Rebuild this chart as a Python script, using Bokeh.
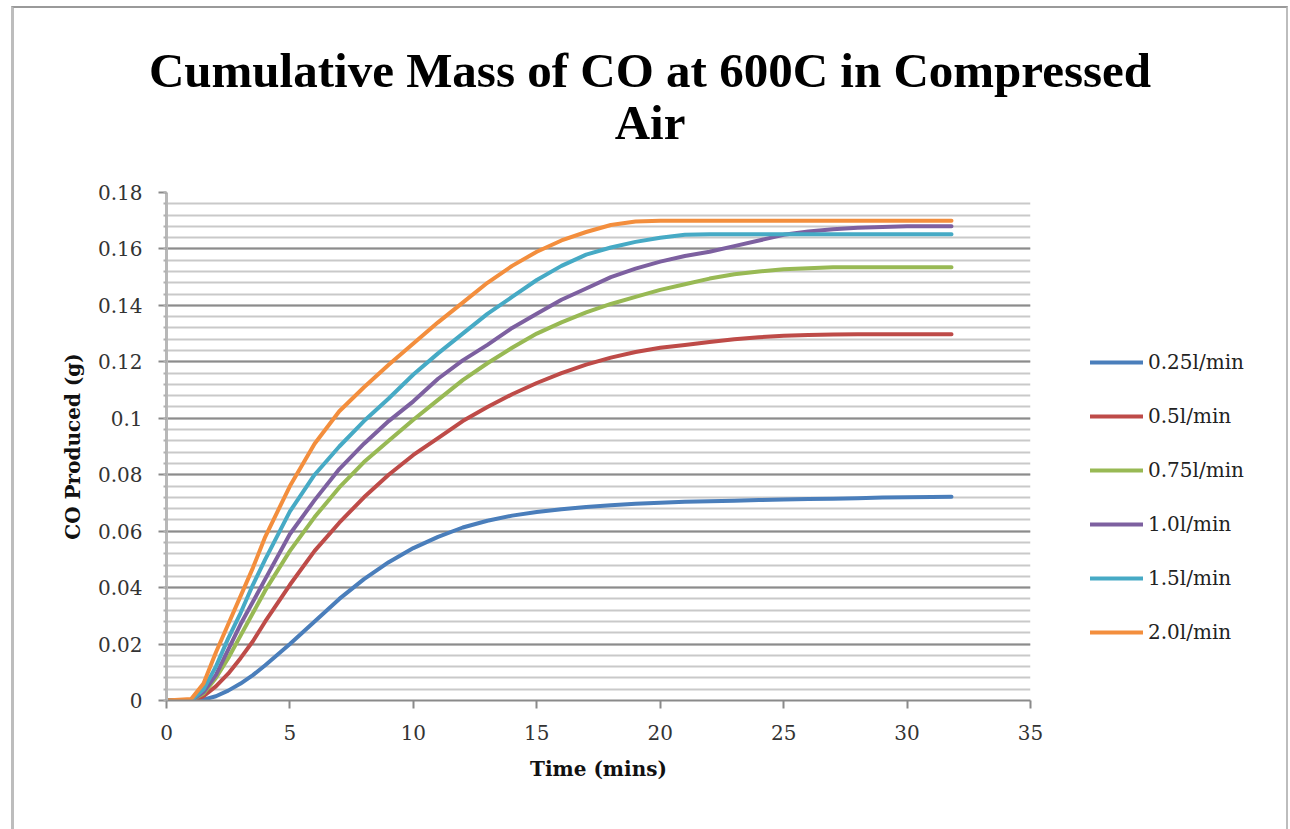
from bokeh.plotting import figure
from bokeh.models import FixedTicker, Legend, LegendItem, Div
from bokeh.layouts import column, row
from bokeh.embed import file_html
from bokeh.resources import INLINE

# ---------------- data ----------------
time_min = [0, 1, 1.5, 2, 2.5, 3, 3.5, 4, 5, 6, 7, 8, 9, 10, 11, 12, 13, 14, 15,
            16, 17, 18, 19, 20, 21, 22, 23, 24, 25, 26, 27, 28, 29, 30, 31, 31.8]

flow_025 = [0, 0, 0.0003, 0.0015, 0.0035, 0.006, 0.009, 0.0125, 0.020, 0.028, 0.036,
            0.043, 0.049, 0.054, 0.058, 0.0613, 0.0637, 0.0655, 0.0668, 0.0678, 0.0686,
            0.0692, 0.0697, 0.0701, 0.0704, 0.0706, 0.0708, 0.0710, 0.0712, 0.0714,
            0.0715, 0.0717, 0.0719, 0.0720, 0.0721, 0.0722]
flow_05 = [0, 0, 0.0015, 0.005, 0.0095, 0.015, 0.021, 0.028, 0.041, 0.053, 0.063,
           0.072, 0.080, 0.087, 0.093, 0.099, 0.104, 0.1085, 0.1125, 0.116, 0.119,
           0.1215, 0.1235, 0.125, 0.126, 0.127, 0.128, 0.1287, 0.1292, 0.1295,
           0.1297, 0.1298, 0.1298, 0.1298, 0.1298, 0.1298]
flow_075 = [0, 0, 0.0025, 0.008, 0.015, 0.023, 0.031, 0.039, 0.053, 0.065, 0.0755,
            0.0845, 0.092, 0.0995, 0.1065, 0.1135, 0.1195, 0.125, 0.130, 0.134, 0.1375,
            0.1405, 0.143, 0.1455, 0.1475, 0.1495, 0.151, 0.152, 0.1528, 0.1532,
            0.1535, 0.1535, 0.1535, 0.1535, 0.1535, 0.1535]
flow_10 = [0, 0, 0.003, 0.009, 0.018, 0.027, 0.035, 0.043, 0.059, 0.071, 0.082,
           0.091, 0.099, 0.106, 0.114, 0.1205, 0.126, 0.132, 0.137, 0.142, 0.146,
           0.150, 0.153, 0.1555, 0.1575, 0.159, 0.161, 0.163, 0.165, 0.1662,
           0.1670, 0.1675, 0.1678, 0.1680, 0.1680, 0.1680]
flow_15 = [0, 0, 0.004, 0.012, 0.022, 0.031, 0.041, 0.050, 0.067, 0.080, 0.090,
           0.099, 0.107, 0.1155, 0.123, 0.130, 0.137, 0.143, 0.149, 0.154, 0.158,
           0.1605, 0.1625, 0.164, 0.165, 0.1652, 0.1652, 0.1652, 0.1652, 0.1652,
           0.1652, 0.1652, 0.1652, 0.1652, 0.1652, 0.1652]
flow_20 = [0, 0.0005, 0.006, 0.017, 0.027, 0.037, 0.047, 0.058, 0.076, 0.091, 0.1025,
           0.111, 0.119, 0.1265, 0.134, 0.141, 0.148, 0.154, 0.159, 0.163, 0.166,
           0.1685, 0.1697, 0.170, 0.170, 0.170, 0.170, 0.170, 0.170, 0.170,
           0.170, 0.170, 0.170, 0.170, 0.170, 0.170]

series_names = ["0.25l/min", "0.5l/min", "0.75l/min", "1.0l/min", "1.5l/min", "2.0l/min"]
series_values = [flow_025, flow_05, flow_075, flow_10, flow_15, flow_20]
series_colors = ["#4A7EBB", "#BE4B48", "#98B954", "#7D60A0", "#46AAC5", "#F38E3D"]

x_ticks = [0, 5, 10, 15, 20, 25, 30, 35]
y_ticks = [0, 0.02, 0.04, 0.06, 0.08, 0.1, 0.12, 0.14, 0.16, 0.18]
y_tick_labels = ["0", "0.02", "0.04", "0.06", "0.08", "0.1", "0.12", "0.14", "0.16", "0.18"]
y_minor_ticks = [round(i * 0.004, 3) for i in range(46)]

title_lines = ["Cumulative Mass of CO at 600C in Compressed", "Air"]
x_label = "Time (mins)"
y_label = "CO Produced (g)"

SERIF = "DejaVu Serif"

# ---------------- title ----------------
title_div = Div(
    text="<div style=\"width:1264px; padding-top:37px; padding-left:8px; text-align:center; "
         "font-family:'Liberation Serif'; font-weight:bold; font-size:49px; "
         "line-height:52px; color:#000;\">" + title_lines[0] + "<br>" + title_lines[1] + "</div>",
    width=1272, height=142, margin=0)

# ---------------- main figure ----------------
p = figure(width=1036, height=679, output_backend="svg", toolbar_location=None,
           x_range=(0, 35), y_range=(0, 0.18),
           min_border_left=152, min_border_right=20, min_border_top=42,
           min_border_bottom=129, margin=0)
p.outline_line_color = None
p.background_fill_color = "white"
p.border_fill_color = "white"

# grid
p.xgrid.grid_line_color = None
p.ygrid.ticker = FixedTicker(ticks=y_ticks, minor_ticks=y_minor_ticks)
p.ygrid.grid_line_color = "#8c8c8c"
p.ygrid.grid_line_width = 2
p.ygrid.minor_grid_line_color = "#c9c9c9"
p.ygrid.minor_grid_line_width = 2

# axes
xa = p.xaxis[0]
xa.ticker = FixedTicker(ticks=x_ticks, minor_ticks=[])
xa.axis_line_color = "#8a8a8a"
xa.axis_line_width = 2
xa.major_tick_line_color = "#8a8a8a"
xa.major_tick_line_width = 2
xa.major_tick_out = 8
xa.major_tick_in = 0
xa.minor_tick_line_color = None
xa.major_label_text_font = SERIF
xa.major_label_text_font_size = "20px"
xa.major_label_text_color = "#333333"
xa.major_label_standoff = 16
xa.axis_label = x_label
xa.axis_label_text_font = SERIF
xa.axis_label_text_font_style = "bold"
xa.axis_label_text_font_size = "20px"
xa.axis_label_text_color = "#111111"
xa.axis_label_standoff = 14

ya = p.yaxis[0]
ya.ticker = FixedTicker(ticks=y_ticks, minor_ticks=y_minor_ticks)
ya.major_label_overrides = dict(zip(y_ticks, y_tick_labels))
ya.axis_line_color = "#b8b8b8"
ya.axis_line_width = 3
ya.major_tick_line_color = "#8a8a8a"
ya.major_tick_line_width = 2
ya.major_tick_out = 8
ya.major_tick_in = 0
ya.minor_tick_line_color = "#b0b0b0"
ya.minor_tick_line_width = 2
ya.minor_tick_out = 3
ya.minor_tick_in = 0
ya.major_label_text_font = SERIF
ya.major_label_text_font_size = "20px"
ya.major_label_text_color = "#333333"
ya.major_label_standoff = 16
ya.axis_label = y_label
ya.axis_label_text_font = SERIF
ya.axis_label_text_font_style = "bold"
ya.axis_label_text_font_size = "20px"
ya.axis_label_text_color = "#111111"
ya.axis_label_standoff = 10

# lines
for name, vals, col in zip(series_names, series_values, series_colors):
    p.line(time_min, vals, line_color=col, line_width=4, line_join="round",
           line_cap="round")

# ---------------- legend panel (own small figure to the right) ----------------
# same series drawn again but outside this panel's visible ranges, so only
# their legend keys show
lg = figure(width=236, height=679, output_backend="svg", toolbar_location=None,
            x_range=(100, 101), y_range=(100, 101), min_border=0, margin=0)
lg.axis.visible = False
lg.grid.visible = False
lg.outline_line_color = None
lg.background_fill_color = "white"
lg.border_fill_color = "white"

items = []
for name, vals, col in zip(series_names, series_values, series_colors):
    key = lg.line(time_min, vals, line_color=col, line_width=4, line_cap="round")
    items.append(LegendItem(label=name, renderers=[key]))

legend = Legend(items=items, location=(40, 56), orientation="vertical",
                label_text_font=SERIF, label_text_font_size="20px",
                label_text_color="#222222", glyph_width=53, glyph_height=20,
                label_height=20, spacing=30, padding=0, margin=0,
                label_standoff=5, border_line_alpha=0, background_fill_alpha=0)
lg.add_layout(legend)

layout = column(title_div, row(p, lg, spacing=0), spacing=0,
                styles={"margin-left": "11px", "margin-top": "6px",
                        "border-left": "3px solid #bdbdbd",
                        "border-top": "2px solid #9a9a9a",
                        "border-right": "2px solid #bdbdbd"})

open("out.html", "w").write(file_html(layout, INLINE))
